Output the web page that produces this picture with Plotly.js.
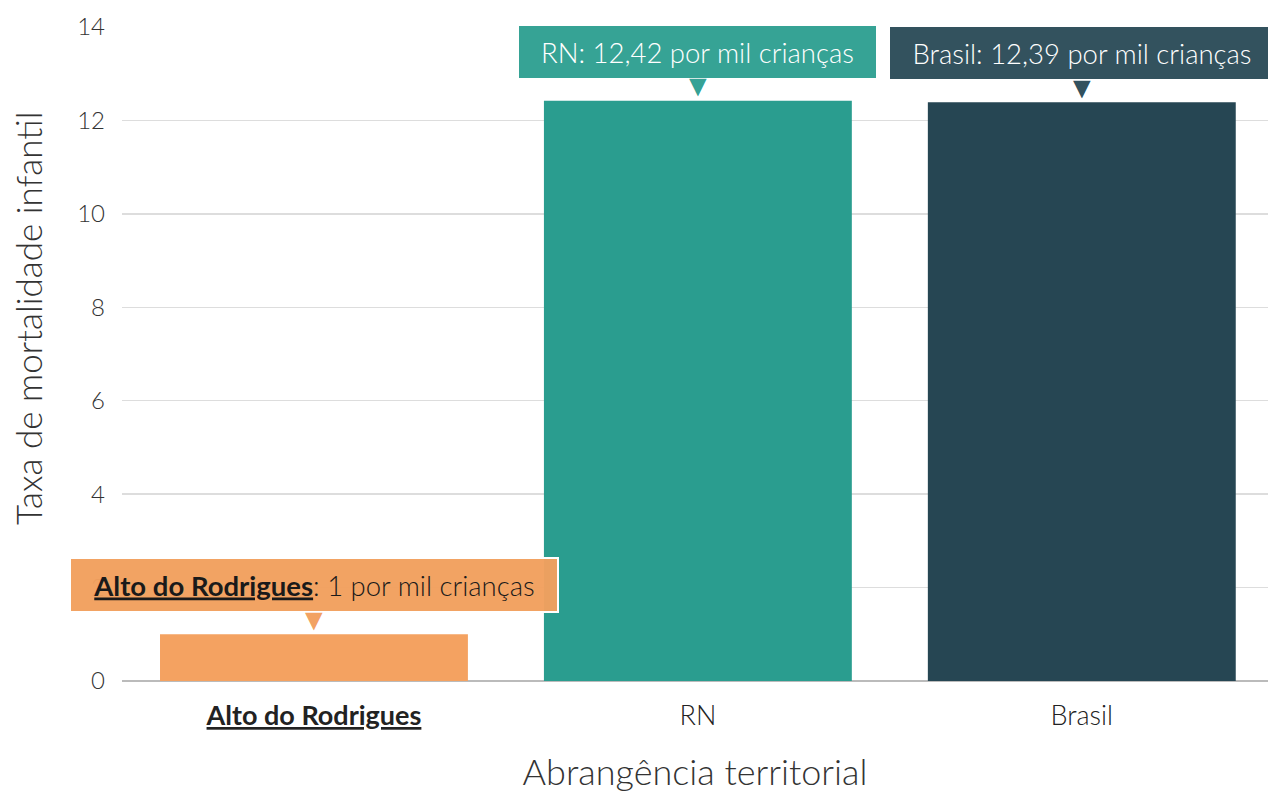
<!DOCTYPE html>
<html>
<head>
<meta charset="utf-8">
<script src="https://cdn.plot.ly/plotly-3.0.1.min.js"></script>
<style>html,body{margin:0;padding:0;background:#fff;}#chart{width:1268px;height:793px;}</style>
</head>
<body>
<div id="chart"></div>
<script>
const categories = ["Alto do Rodrigues", "RN", "Brasil"];
const tickLabels = ["<b><span style='text-decoration:underline'>Alto do Rodrigues</span></b>", "RN", "Brasil"];
const values = [1, 12.42, 12.39];
const valueLabels = ["1", "12,42", "12,39"];
const labelNames = ["<b><span style='text-decoration:underline'>Alto do Rodrigues</span></b>", "RN", "Brasil"];
const barColors = ["#F4A261", "#2A9D8F", "#264653"];
const boxColors = ["rgba(242,160,94,0.97)", "rgba(48,160,146,0.97)", "rgba(44,76,89,0.97)"];
const textColors = ["#1a1a1a", "#ffffff", "#ffffff"];
const boxWidths = [470, 341, 368];
const yTitle = "Taxa de mortalidade infantil";
const xTitle = "Abrangência territorial";

const FONT = "Lato, 'Open Sans', sans-serif";

const trace = {
  type: "bar",
  x: categories,
  y: values,
  marker: {color: barColors},
  hoverinfo: "none"
};

const annotations = [];
categories.forEach((c, i) => {
  annotations.push({
    x: c, y: values[i], xref: "x", yref: "y",
    yanchor: "bottom", yshift: 21,
    text: labelNames[i] + ": " + valueLabels[i] + " por mil crianças",
    showarrow: false,
    width: boxWidths[i], height: 36, align: "center", valign: "middle",
    bgcolor: boxColors[i],
    bordercolor: "#ffffff", borderwidth: 2, borderpad: 8,
    font: {family: FONT, size: 27.5, color: textColors[i], weight: 300}
  });
  annotations.push({
    x: c, y: values[i], xref: "x", yref: "y",
    yanchor: "middle", yshift: 15,
    text: "▼", showarrow: false,
    font: {family: "DejaVu Sans", size: 30, color: boxColors[i]}
  });
});
annotations.push({
  xref: "paper", yref: "paper", x: 0, y: 0.5,
  xanchor: "center", yanchor: "middle",
  xshift: -94, yshift: 35, textangle: -90,
  text: yTitle, showarrow: false,
  font: {family: FONT, size: 35, color: "#333", weight: 300}
});

const layout = {
  width: 1268, height: 793,
  margin: {l: 122, r: 0, t: 27, b: 112},
  paper_bgcolor: "#ffffff", plot_bgcolor: "#ffffff",
  bargap: 0.198,
  showlegend: false,
  font: {family: FONT, color: "#333", weight: 300},
  xaxis: {
    type: "category",
    range: [-0.5, 2.485], autorange: false,
    tickvals: categories, ticktext: tickLabels,
    tickfont: {family: FONT, size: 27, color: "#222", weight: 300},
    showgrid: false, showline: false, ticks: "",
    ticklabelstandoff: 16,
    title: {text: xTitle, font: {family: FONT, size: 36, color: "#333", weight: 300}, standoff: 34}
  },
  yaxis: {
    range: [0, 14], autorange: false, dtick: 2,
    tickfont: {family: FONT, size: 24, color: "#333", weight: 300},
    gridcolor: "#dddddd", gridwidth: 1.5,
    zeroline: true, zerolinecolor: "#bbbbbb", zerolinewidth: 2,
    ticks: "", ticklen: 0,
    ticklabelstandoff: 16
  },
  annotations: annotations
};

Plotly.newPlot("chart", [trace], layout, {displayModeBar: false, staticPlot: true});
</script>
</body>
</html>
